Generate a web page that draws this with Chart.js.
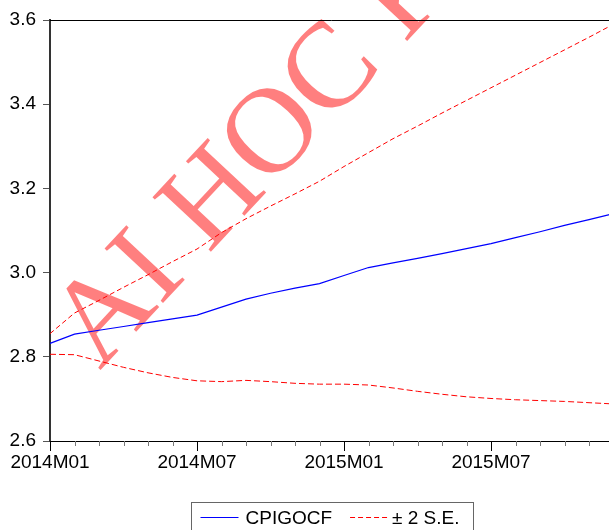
<!DOCTYPE html>
<html>
<head>
<meta charset="utf-8">
<script src="https://cdn.jsdelivr.net/npm/chart.js@4"></script>
<style>
  html, body { margin: 0; padding: 0; background: #fff; overflow: hidden; }
  #wrap { position: relative; width: 640px; height: 530px; }
</style>
</head>
<body>
<div id="wrap"><canvas id="chart" width="640" height="530"></canvas></div>
<script>
// Monthly periods of the forecast sample
const months = [
  '2014M01','2014M02','2014M03','2014M04','2014M05','2014M06',
  '2014M07','2014M08','2014M09','2014M10','2014M11','2014M12',
  '2015M01','2015M02','2015M03','2015M04','2015M05','2015M06',
  '2015M07','2015M08','2015M09','2015M10','2015M11','2015M12'
];

// Point forecast of CPIGOCF
const forecast = [
  2.832, 2.854, 2.863, 2.872, 2.881, 2.890,
  2.899, 2.918, 2.937, 2.951, 2.963, 2.974,
  2.993, 3.012, 3.023, 3.034, 3.045, 3.057,
  3.069, 3.083, 3.097, 3.112, 3.126, 3.140
];

// Upper and lower +/- 2 standard-error bands
const upperBand = [
  2.855, 2.904, 2.934, 2.965, 2.995, 3.026,
  3.056, 3.095, 3.128, 3.158, 3.187, 3.217,
  3.252, 3.285, 3.318, 3.348, 3.379, 3.409,
  3.439, 3.469, 3.499, 3.529, 3.559, 3.590
];
const lowerBand = [
  2.806, 2.805, 2.790, 2.775, 2.762, 2.751,
  2.743, 2.741, 2.744, 2.741, 2.737, 2.735,
  2.735, 2.733, 2.726, 2.718, 2.711, 2.705,
  2.701, 2.698, 2.696, 2.694, 2.691, 2.688
];

// Value axis ticks and the spacing of labelled periods
const yTicks = [2.6, 2.8, 3.0, 3.2, 3.4, 3.6];
const labelEvery = 6;

const seriesName = 'CPIGOCF';
const bandName = '\u00B1 2 S.E.';
const watermarkText = 'AI HOC K';

const FONT = '"Liberation Sans", Arial, sans-serif';
const BLUE = '#0000ff';
const RED = '#ff0000';

const framePlugin = {
  id: 'frame',
  beforeDraw(chart) {
    const ctx = chart.ctx;
    ctx.save();
    ctx.fillStyle = '#ffffff';
    ctx.fillRect(0, 0, chart.width, chart.height);

    // faint diagonal stamp behind the series
    ctx.font = '122px "Liberation Serif", "Times New Roman", serif';
    const lead = ctx.measureText('AI H').width + ctx.measureText('O').width / 2;
    ctx.translate(270, 131);
    ctx.rotate(-47 * Math.PI / 180);
    ctx.fillStyle = 'rgba(255,0,0,0.5)';
    ctx.textBaseline = 'alphabetic';
    ctx.fillText(watermarkText, -lead, 39);
    ctx.restore();
  },
  afterDraw(chart) {
    const ctx = chart.ctx;
    const area = chart.chartArea;
    const xs = chart.scales.x;
    ctx.save();

    // top frame line
    ctx.strokeStyle = '#000';
    ctx.lineWidth = 1;
    ctx.beginPath();
    ctx.moveTo(area.left, area.top + 0.5);
    ctx.lineTo(area.right, area.top + 0.5);
    ctx.stroke();

    // monthly tick marks, longer at labelled periods
    months.forEach((m, i) => {
      const px = Math.round(xs.getPixelForValue(i)) + 0.5;
      const major = i % labelEvery === 0;
      ctx.strokeStyle = major ? '#000' : '#777';
      ctx.beginPath();
      ctx.moveTo(px, area.bottom);
      ctx.lineTo(px, area.bottom + (major ? 10 : 5));
      ctx.stroke();
    });

    // legend box centred under the plot
    const cx = (area.left + area.right) / 2;
    const bw = 282, bh = 40;
    const bx = Math.round(cx - bw / 2) + 0.5, by = 502.5;
    ctx.strokeStyle = '#666';
    ctx.lineWidth = 1;
    ctx.strokeRect(bx, by, bw, bh);

    ctx.font = '19px ' + FONT;
    ctx.fillStyle = '#000';
    ctx.textBaseline = 'alphabetic';
    const ly = 517.5, ty = 523.5;
    let x = bx + 9;

    const ds = chart.data.datasets;
    // series sample
    ctx.strokeStyle = ds[0].borderColor;
    ctx.lineWidth = 1;
    ctx.setLineDash([]);
    ctx.beginPath(); ctx.moveTo(x, ly); ctx.lineTo(x + 38, ly); ctx.stroke();
    x += 45;
    ctx.fillText(ds[0].label, x, ty);
    x += ctx.measureText(ds[0].label).width + 18;
    // band sample
    ctx.strokeStyle = ds[1].borderColor;
    ctx.setLineDash([5, 3]);
    ctx.beginPath(); ctx.moveTo(x, ly); ctx.lineTo(x + 38, ly); ctx.stroke();
    ctx.setLineDash([]);
    x += 42;
    ctx.fillText(ds[1].label, x, ty);
    ctx.restore();
  }
};

new Chart(document.getElementById('chart'), {
  type: 'line',
  data: {
    labels: months,
    datasets: [
      { label: seriesName, data: forecast, borderColor: BLUE, borderWidth: 1.2,
        pointRadius: 0, tension: 0, fill: false },
      { label: bandName, data: upperBand, borderColor: RED, borderWidth: 1,
        borderDash: [5, 3], pointRadius: 0, tension: 0, fill: false },
      { label: bandName, data: lowerBand, borderColor: RED, borderWidth: 1,
        borderDash: [6, 3], pointRadius: 0, tension: 0, fill: false }
    ]
  },
  options: {
    responsive: false,
    animation: false,
    devicePixelRatio: 1,
    layout: { padding: { top: 20, right: 26.5, left: 0, bottom: 0 } },
    plugins: { legend: { display: false }, tooltip: { enabled: false } },
    scales: {
      x: {
        type: 'category',
        offset: false,
        grid: { display: false, drawTicks: false },
        border: { display: true, color: '#000', width: 1 },
        ticks: {
          autoSkip: false, maxRotation: 0, minRotation: 0, padding: 10,
          color: '#000', font: { family: FONT, size: 19 },
          callback: (v, i) => (i % labelEvery === 0 ? months[i] : '')
        },
        afterFit: s => { s.height = 89; }
      },
      y: {
        min: 2.6, max: 3.6,
        afterBuildTicks: s => { s.ticks = yTicks.map(v => ({ value: v })); },
        grid: { drawOnChartArea: false, tickLength: 7, color: '#555', lineWidth: 1 },
        border: { display: true, color: '#333', width: 2 },
        ticks: {
          padding: 7, color: '#000', font: { family: FONT, size: 19 },
          callback: v => Number(v).toFixed(1)
        },
        afterFit: s => { s.width = 50; }
      }
    }
  },
  plugins: [framePlugin]
});
</script>
</body>
</html>
